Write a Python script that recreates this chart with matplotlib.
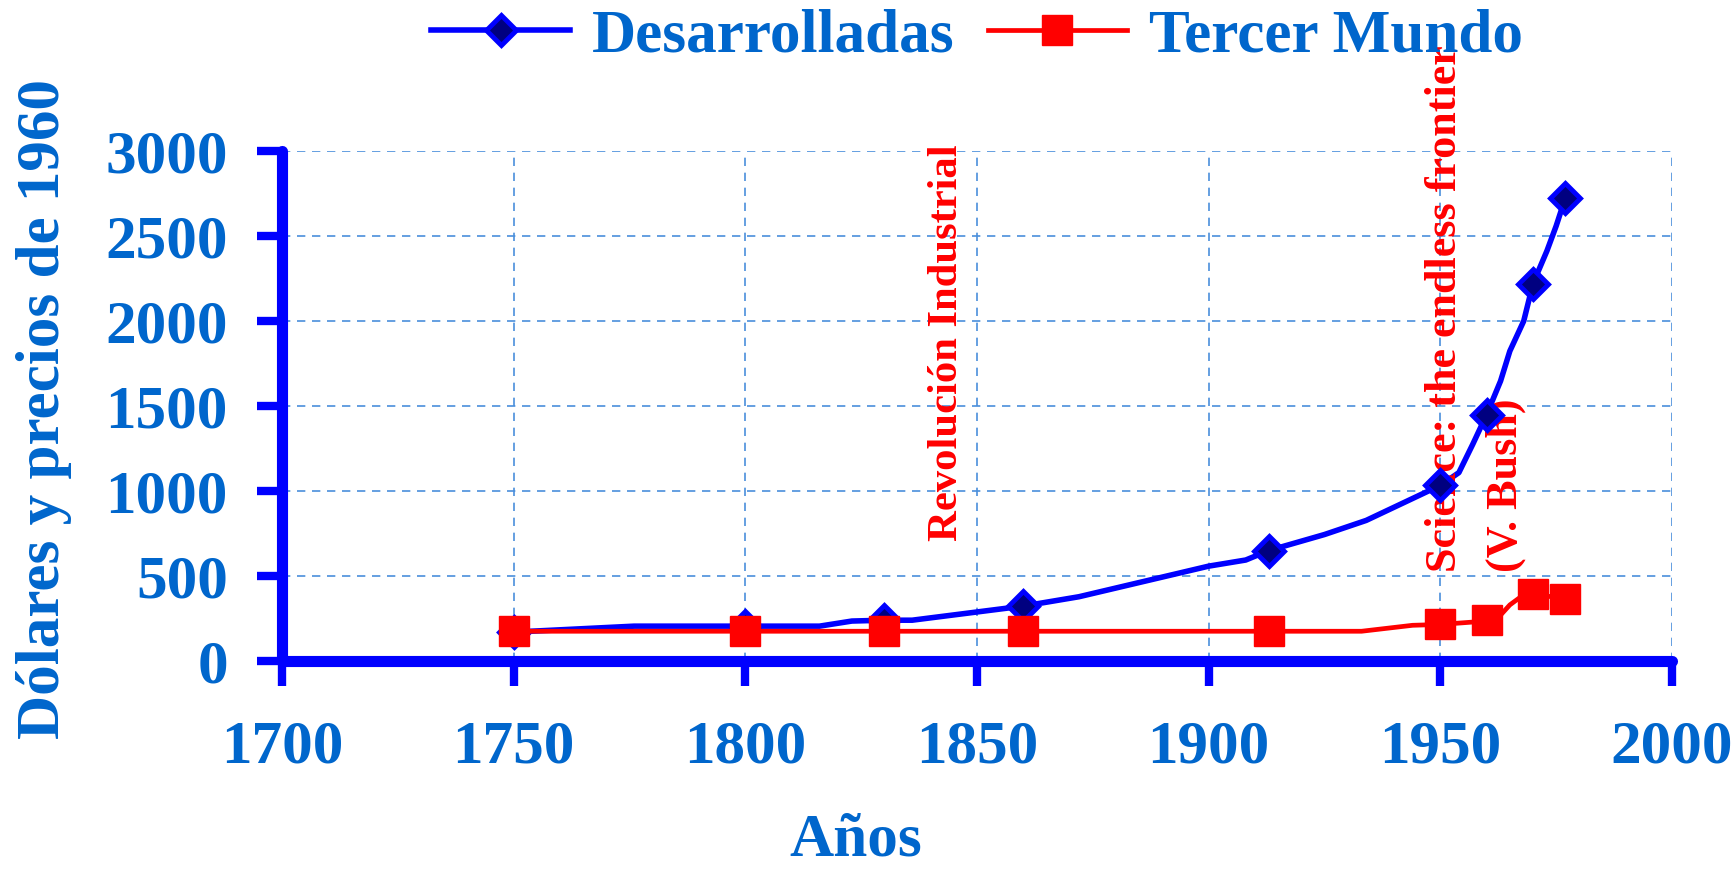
import matplotlib
matplotlib.use('Agg')
import matplotlib.pyplot as plt
from matplotlib.lines import Line2D

# ====================== Data ======================
marker_years = [1750, 1800, 1830, 1860, 1913, 1950, 1960, 1970, 1977]
desarrolladas = [170, 205, 240, 323, 650, 1033, 1450, 2220, 2726]
tercer_mundo = [175, 175, 175, 175, 175, 215, 240, 395, 365]

# line vertices between the markers (the curve has extra bends)
des_line_years = [1750, 1776, 1800, 1816, 1823, 1830, 1836, 1860, 1872, 1900, 1908, 1913,
                  1925, 1934, 1950, 1954, 1957, 1960, 1963, 1965, 1968, 1970, 1973, 1975, 1977]
des_line_vals = [170, 205, 205, 205, 235, 240, 240, 323, 378, 558, 594, 650,
                 744, 827, 1033, 1108, 1275, 1450, 1647, 1823, 2000, 2220, 2412, 2559, 2726]
tm_line_years = [1750, 1800, 1830, 1860, 1913, 1933, 1944, 1950, 1960, 1962, 1965, 1967, 1970, 1977]
tm_line_vals = [175, 175, 175, 175, 175, 175, 210, 215, 235, 240, 330, 370, 395, 365]

x_ticks = [1700, 1750, 1800, 1850, 1900, 1950, 2000]
y_ticks = [0, 500, 1000, 1500, 2000, 2500, 3000]

TEXT_BLUE = '#0066CC'
NAVY = '#000080'

plt.rcParams['font.family'] = ['Liberation Serif', 'DejaVu Serif']
plt.rcParams['font.weight'] = 'bold'

fig = plt.figure(figsize=(17.33, 8.71), dpi=100)
ax = fig.add_axes([282 / 1733, 1 - 661 / 871, 1390 / 1733, 510 / 871])

# ====================== Series ======================
ax.plot(des_line_years, des_line_vals, color='blue', lw=4, solid_joinstyle='round', zorder=3)
ax.plot(marker_years, desarrolladas, ls='none', marker='D', ms=15, mfc=NAVY, mec='blue', mew=3.5, zorder=4)
ax.plot(tm_line_years, tm_line_vals, color='red', lw=3.4, solid_joinstyle='round', zorder=5)
ax.plot(marker_years, tercer_mundo, ls='none', marker='s', ms=21, mfc='red', mec='red', zorder=6)

# ====================== Axes ======================
ax.set_xlim(1700, 2000)
ax.set_ylim(0, 3000)
ax.set_xticks(x_ticks)
ax.set_yticks(y_ticks)
for side in ['top', 'right']:
    ax.spines[side].set_visible(False)
for side in ['left', 'bottom']:
    ax.spines[side].set_color('blue')
    ax.spines[side].set_linewidth(8)
    ax.spines[side].set_capstyle('round')
ax.tick_params(direction='out', length=18, width=6, color='blue',
               labelsize=44, labelcolor=TEXT_BLUE)
ax.tick_params(axis='x', pad=24)
ax.tick_params(axis='y', pad=21)
ax.grid(True, color='#4a8fdb', ls=(0, (5, 4)), lw=1.2)
ax.set_axisbelow(True)

fig.text(856 / 1733, 1 - 868 / 871, 'Años', ha='center', va='bottom',
         fontsize=44, color=TEXT_BLUE)
fig.text(44 / 1733, 1 - 409 / 871, 'Dólares y precios de 1960', ha='center', va='center',
         rotation=90, fontsize=44, color=TEXT_BLUE)

# ====================== Annotations ======================
ax.text(1843.5, 705, 'Revolución Industrial', rotation=90, ha='center', va='bottom',
        fontsize=30.7, color='red')
ax.text(1951, 524, 'Science: the endless frontier', rotation=90, ha='center', va='bottom',
        fontsize=31.8, color='red')
ax.text(1964.2, 524, '(V. Bush)', rotation=90, ha='center', va='bottom',
        fontsize=31.8, color='red')

# ====================== Legend ======================
handles = [
    Line2D([], [], color='blue', lw=4, marker='D', ms=15, mfc=NAVY, mec='blue', mew=3.5),
    Line2D([], [], color='red', lw=3.4, marker='s', ms=21, mfc='red', mec='red'),
]
ax.legend(handles, ['Desarrolladas', 'Tercer Mundo'], loc='center', bbox_to_anchor=(0.5, 1.225),
          ncol=2, frameon=False, fontsize=44, handlelength=2.26, handletextpad=0.36,
          columnspacing=0.56, labelcolor=TEXT_BLUE, borderpad=0)

fig.savefig('out.png', dpi=100)
